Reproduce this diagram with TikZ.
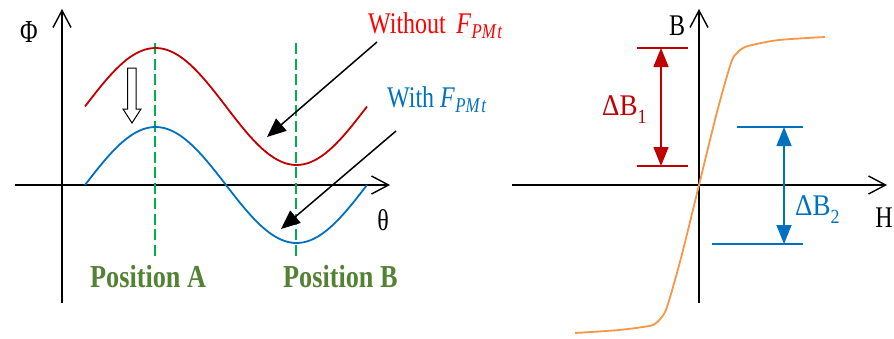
\documentclass[tikz,border=0pt]{standalone}
\usepackage{fontspec}
\setmainfont{Liberation Serif}
\usetikzlibrary{arrows.meta}
\definecolor{cRed}{RGB}{192,0,0}
\definecolor{cBrightRed}{RGB}{255,0,0}
\definecolor{cBlue}{RGB}{0,112,192}
\definecolor{cGreen}{RGB}{0,176,80}
\definecolor{cOlive}{RGB}{84,130,53}
\definecolor{cOrange}{RGB}{247,150,70}
\newcommand{\FPMsub}{\textit{F}\kern0.5pt\raisebox{-5pt}{\fontsize{21}{21}\selectfont\itshape PM\kern2pt t}}
\begin{document}
\begin{tikzpicture}[x=1pt,y=-1pt,
  axis/.style={line width=1.4pt,-{Straight Barb[length=17pt,width=18pt,line width=1.4pt]}},
  lbl/.style={inner sep=0pt,font=\fontsize{30}{30}\selectfont,xscale=0.8},
  poslbl/.style={inner sep=0pt,font=\fontsize{32}{32}\selectfont\bfseries,xscale=0.82,text=cOlive},
  dblbl/.style={inner sep=0pt,font=\fontsize{30}{30}\selectfont,xscale=0.9},
  guide/.style={cGreen,line width=1.5pt,dash pattern=on 11pt off 4.5pt},
  pointer/.style={line width=1.5pt,-{Triangle[length=19pt,width=16pt]}},
  curve/.style={line width=1.8pt},
  bar/.style={line width=1.8pt},
  dbarrow/.style={line width=1.5pt,{Triangle[length=19pt,width=15pt]}-{Triangle[length=19pt,width=15pt]}}
]
\useasboundingbox (0,0) rectangle (894,338);

% ---------- left plot ----------
\coordinate (phiBot) at (62,303);
\coordinate (phiTop) at (62,9);
\coordinate (thLeft) at (15,185);
\coordinate (thRight) at (390,185);
\draw[axis] (phiBot) -- (phiTop);
\draw[axis] (thLeft) -- (thRight);
\node[inner sep=0pt,font=\fontsize{32}{32}\selectfont,xscale=0.75,anchor=base] (phi) at (29,42) {Φ};
\node[lbl,anchor=base] (theta) at (383,230) {θ};

% guides
\coordinate (gAtop) at (155,43);
\coordinate (gAbot) at (155,260);
\coordinate (gBtop) at (296,43);
\coordinate (gBbot) at (296,260);
\draw[guide] (gAtop) -- (gAbot);
\draw[guide] (gBtop) -- (gBbot);

% curves
\draw[cRed,curve] plot[domain=85:367,samples=90] (\x,{106.5-58.5*sin((\x-85)*1.276596)});
\draw[cBlue,curve] plot[domain=85:367,samples=90] (\x,{185-58*sin((\x-85)*1.276596)});

% hollow block arrow
\draw[line width=1pt,fill=white,line join=miter] (127.5,68) -- (136,68) -- (136,109) -- (141,109) -- (132,123) -- (123,109) -- (127.5,109) -- cycle;

% labels
\node[lbl,anchor=base west,text=cBrightRed] (wo) at (368,33) {Without\hspace{13pt}\FPMsub};
\node[lbl,anchor=base west,text=cBlue] (wi) at (387,107) {With \FPMsub};
\coordinate (p1s) at (377,42);
\coordinate (p1e) at (267,137);
\coordinate (p2s) at (396,131);
\coordinate (p2e) at (281,229);
\draw[pointer] (p1s) -- (p1e);
\draw[pointer] (p2s) -- (p2e);

\node[poslbl,anchor=base west] (posA) at (90,287) {Position A};
\node[poslbl,anchor=base west] (posB) at (283,287) {Position B};

% ---------- right plot ----------
\coordinate (bBot) at (699,303);
\coordinate (bTop) at (699,9);
\coordinate (hLeft) at (512,185);
\coordinate (hRight) at (887,185);
\draw[axis] (bBot) -- (bTop);
\draw[axis] (hLeft) -- (hRight);
\node[lbl,anchor=base] (Blab) at (677,35) {B};
\node[lbl,anchor=base] (Hlab) at (884,227) {H};

% B-H curve
\draw[cOrange,curve] plot[smooth,tension=0.5] coordinates {
 (575,333) (619,330) (649,326) (656,323) (661,318) (667,307) (681,258) (699,185)
 (717,112) (731,63) (737,53) (743,48) (752,45) (779,40) (825,37)};

% Delta B1
\coordinate (r1a) at (637,48);
\coordinate (r1b) at (688,48);
\coordinate (r2a) at (637,166);
\coordinate (r2b) at (688,166);
\draw[cRed,bar] (r1a) -- (r1b);
\draw[cRed,bar] (r2a) -- (r2b);
\coordinate (rat) at (661,48);
\coordinate (rab) at (661,166);
\draw[cRed,dbarrow] (rat) -- (rab);
\node[dblbl,anchor=base west,text=cRed] (dB1) at (602,115) {ΔB\raisebox{-8pt}{\fontsize{20}{20}\selectfont 1}};

% Delta B2
\coordinate (b1a) at (737,127);
\coordinate (b1b) at (803,127);
\coordinate (b2a) at (712,244);
\coordinate (b2b) at (803,244);
\draw[cBlue,bar] (b1a) -- (b1b);
\draw[cBlue,bar] (b2a) -- (b2b);
\coordinate (bat) at (784,127);
\coordinate (bab) at (784,244);
\draw[cBlue,dbarrow] (bat) -- (bab);
\node[dblbl,anchor=base west,text=cBlue] (dB2) at (795,215) {ΔB\raisebox{-8pt}{\fontsize{20}{20}\selectfont 2}};
\end{tikzpicture}
\end{document}
